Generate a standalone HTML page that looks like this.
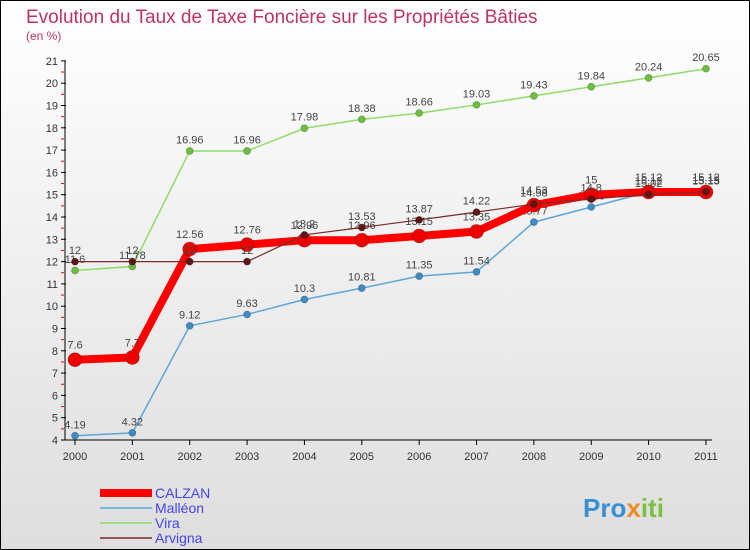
<!DOCTYPE html>
<html><head><meta charset="utf-8"><style>
body{margin:0;width:750px;height:550px;overflow:hidden;font-family:"Liberation Sans",sans-serif}
</style></head><body>
<svg width="750" height="550" xmlns="http://www.w3.org/2000/svg" style="display:block">
<defs><linearGradient id="bg" x1="0" y1="0" x2="0" y2="1"><stop offset="0" stop-color="#ffffff"/><stop offset="1" stop-color="#dedede"/></linearGradient></defs>
<rect x="0.5" y="0.5" width="749" height="549" fill="url(#bg)" stroke="#000"/>
<text x="26" y="23" font-size="19" fill="#c0335e">Evolution du Taux de Taxe Foncière sur les Propriétés Bâties</text>
<text x="26" y="40" font-size="12" fill="#c0335e">(en %)</text>
<g id="axes"></g><g id="series"></g><g id="legend"></g>
<text x="583" y="517" font-size="26" font-weight="bold" fill="#3a8fd0">Pro<tspan fill="#f08a1c">x</tspan><tspan fill="#7ac143">iti</tspan></text>
</svg>
<script>
const years=['2000','2001','2002','2003','2004','2005','2006','2007','2008','2009','2010','2011'];
const yTicks=[4,5,6,7,8,9,10,11,12,13,14,15,16,17,18,19,20,21];
const calzan=[7.6,7.7,12.56,12.76,12.96,12.96,13.15,13.35,14.53,15,15.12,15.12];
const malleon=[4.19,4.32,9.12,9.63,10.3,10.81,11.35,11.54,13.77,14.45,15.12,15.15];
const vira=[11.6,11.78,16.96,16.96,17.98,18.38,18.66,19.03,19.43,19.84,20.24,20.65];
const arvigna=[12,12,12,12,13.2,13.53,13.87,14.22,14.58,14.8,15.02,15.13];
const NS='http://www.w3.org/2000/svg';
const X=i=>75+i*57.36, Y=v=>440-(v-4)*22.3;
function mk(t,a,p){const e=document.createElementNS(NS,t);for(const k in a)e.setAttribute(k,a[k]);p.appendChild(e);return e;}
const ax=document.getElementById('axes');
let l=mk('line',{x1:65,y1:61,x2:65,y2:440,stroke:'#000'},ax);

l=mk('line',{x1:65,y1:440,x2:712,y2:440,stroke:'#000'},ax);

yTicks.forEach(v=>{
 mk('line',{x1:61,y1:Y(v),x2:66,y2:Y(v),stroke:'#000'},ax);
 if(v<21)mk('line',{x1:61,y1:Y(v+0.5),x2:64,y2:Y(v+0.5),stroke:'#e00'},ax);
 const t=mk('text',{x:58,y:Y(v)+4,'font-size':11,'text-anchor':'end',fill:'#333'},ax);t.textContent=v;
 
});
years.forEach((y,i)=>{
 mk('line',{x1:X(i),y1:440,x2:X(i),y2:445,stroke:'#000'},ax);
 const t=mk('text',{x:X(i),y:460,'font-size':11,'text-anchor':'middle',fill:'#333'},ax);t.textContent=y;
 
});
const sg=document.getElementById('series');
const series=[
 {n:'vira',d:vira,c:'#8fdc6a',f:'#6cc13c',w:1.5,r:3.5},
 {n:'malleon',d:malleon,c:'#5ca6d8',f:'#3d8cc6',w:1.5,r:3.5},
 {n:'calzan',d:calzan,c:'#ff0000',f:'#ee0000',w:8,r:7},
 {n:'arvigna',d:arvigna,c:'#7a2a2a',f:'#5e1616',w:1.2,r:3.5}];
series.forEach(s=>{
 const g=mk('g',{},sg);
 mk('polyline',{points:s.d.map((v,i)=>X(i)+','+Y(v)).join(' '),fill:'none',stroke:s.c,'stroke-width':s.w,'stroke-linejoin':'round'},g);
 s.d.forEach((v,i)=>{
  const c=mk('circle',{cx:X(i),cy:Y(v),r:s.r,fill:s.f,stroke:'rgba(0,0,0,0.3)','stroke-width':0.7},g);
  
  const t=mk('text',{x:X(i),y:Y(v)-(s.r+4),'font-size':11,'text-anchor':'middle',fill:'#444'},g);t.textContent=v;
  
 });
});
const lg=document.getElementById('legend');
[['CALZAN','#ff0000',8],['Malléon','#5ca6d8',1.5],['Vira','#8fdc6a',1.5],['Arvigna','#7a2a2a',1.5]].forEach((e,i)=>{
 const y=493+i*15;
 const g=mk('g',{},lg);
 mk('line',{x1:100,y1:y,x2:152,y2:y,stroke:e[1],'stroke-width':e[2]},g);
 const t=mk('text',{x:155,y:y+5,'font-size':14,fill:'#4444ee'},g);t.textContent=e[0];
});
</script>
</body></html>
